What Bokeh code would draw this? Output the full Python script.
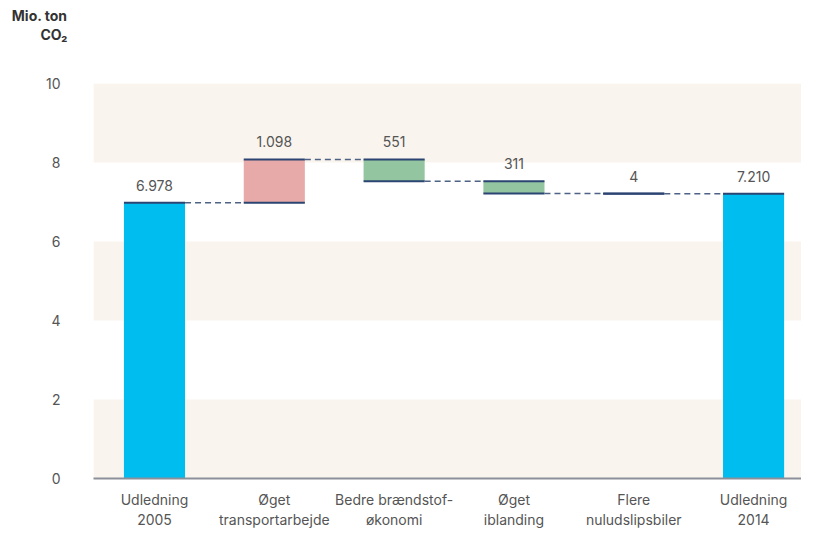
from bokeh.plotting import figure
from bokeh.models import ColumnDataSource, Title, FixedTicker, BoxAnnotation
from bokeh.embed import file_html
from bokeh.resources import INLINE
from bokeh.core.properties import value

categories = ["Udledning\n2005", "Øget\ntransportarbejde", "Bedre brændstof-\nøkonomi",
              "Øget\niblanding", "Flere\nnuludslipsbiler", "Udledning\n2014"]
changes = [6.978, 1.098, -0.551, -0.311, -0.004, 7.210]
kinds = ["total", "delta", "delta", "delta", "delta", "total"]
value_labels = ["6.978", "1.098", "551", "311", "4", "7.210"]
fill_colors = ["#00bdf0", "#e8aaa8", "#93c5a0", "#93c5a0", "#00bdf0", "#00bdf0"]
y_ticks = [0, 2, 4, 6, 8, 10]

# waterfall geometry from the data
bottoms, tops = [], []
running = 0.0
for c, k in zip(changes, kinds):
    if k == "total":
        b, t = 0.0, c
        running = c
    else:
        start = running
        running = running + c
        b, t = min(start, running), max(start, running)
    bottoms.append(b)
    tops.append(t)

xs = list(range(len(categories)))
bw = 0.51

W, H = 801, 530
TOP, BOTTOM, LEFT = 83, 52, 93
p = figure(width=W, height=H, x_range=(-0.509, 5.40), y_range=(0, 10), title=None,
           output_backend="svg", toolbar_location=None,
           min_border_left=LEFT, min_border_right=0, min_border_top=TOP, min_border_bottom=BOTTOM)
p.outline_line_color = None
p.background_fill_color = "white"
p.grid.visible = False

for lo in (0, 4, 8):
    p.add_layout(BoxAnnotation(bottom=lo, top=lo + 2, fill_color="#f9f4ee", fill_alpha=1,
                               line_color=None, level="underlay"))

src = ColumnDataSource(dict(left=[x - bw / 2 for x in xs], right=[x + bw / 2 for x in xs],
                            bottom=bottoms, top=tops, color=fill_colors))
p.quad(left="left", right="right", bottom="bottom", top="top", fill_color="color",
       line_color=None, source=src)

# edge lines
ex0, ex1, ey = [], [], []
for x, b, t, k in zip(xs, bottoms, tops, kinds):
    ex0.append(x - bw / 2); ex1.append(x + bw / 2); ey.append(t)
    if k == "delta":
        ex0.append(x - bw / 2); ex1.append(x + bw / 2); ey.append(b)
p.segment(x0=ex0, y0=ey, x1=ex1, y1=ey, line_color="#2b4472", line_width=2)

# connectors
running = 0.0
levels = []
for c, k in zip(changes, kinds):
    running = c if k == "total" else running + c
    levels.append(running)
cx0 = [x + bw / 2 for x in xs[:-1]]
cx1 = [x - bw / 2 for x in xs[1:]]
p.segment(x0=cx0, y0=levels[:-1], x1=cx1, y1=levels[:-1], line_color="#4d6285",
          line_width=1.5, line_dash="6 4")

# value labels
p.text(x=xs, y=tops, text=value_labels, text_align="center", text_baseline="bottom",
       y_offset=-12, text_font=value("Inter"), text_font_size="14px", text_color="#555555")

# axes
p.xaxis.ticker = FixedTicker(ticks=xs)
p.xaxis.major_label_overrides = {i: c for i, c in enumerate(categories)}
p.xaxis.major_tick_line_color = None
p.xaxis.minor_tick_line_color = None
p.xaxis.axis_line_color = "#8c9099"
p.xaxis.axis_line_width = 2
p.xaxis.major_label_text_font = "Inter"
p.xaxis.major_label_text_font_size = "14px"
p.xaxis.major_label_text_color = "#555555"
p.xaxis.major_label_standoff = 6

p.yaxis.ticker = FixedTicker(ticks=y_ticks)
p.yaxis.major_tick_line_color = None
p.yaxis.minor_tick_line_color = None
p.yaxis.axis_line_color = None
p.yaxis.major_label_text_font = "Inter"
p.yaxis.major_label_text_font_size = "14px"
p.yaxis.major_label_text_color = "#555555"
p.yaxis.major_label_standoff = 27

# unit title, right-aligned left of the plot frame (right align: positive offset moves left)
shift = (W - LEFT) + 26
p.add_layout(Title(text=" ", align="right", offset=shift, standoff=22,
                   text_font="Inter", text_font_size="14px"), "above")
p.add_layout(Title(text="CO₂", align="right", offset=shift, standoff=0,
                   text_font="Inter", text_font_size="14px", text_font_style="bold",
                   text_color="#333333"), "above")
p.add_layout(Title(text="Mio. ton", align="right", offset=shift, standoff=0,
                   text_font="Inter", text_font_size="14px", text_font_style="bold",
                   text_color="#333333"), "above")

open("out.html", "w").write(file_html(p, INLINE))
